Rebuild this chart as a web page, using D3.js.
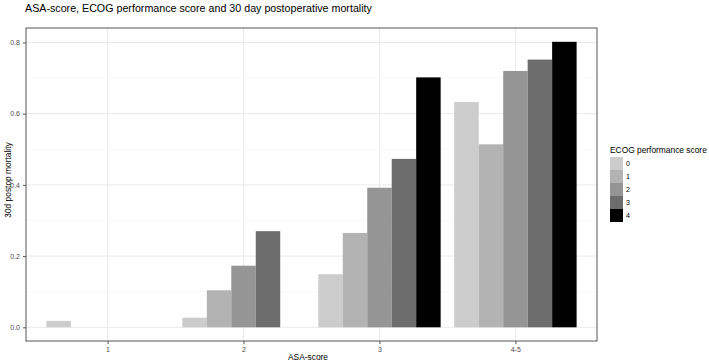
<!DOCTYPE html>
<html><head><meta charset="utf-8">
<script src="https://cdn.jsdelivr.net/npm/d3@7"></script>
<style>body{margin:0;background:#fff}svg{display:block;font-family:"Liberation Sans",Arial,sans-serif}</style>
</head><body><svg id="c" width="709" height="364"></svg>
<script>
const categories = ["1","2","3","4-5"];
const ecogLevels = ["0","1","2","3","4"];
const ecogColors = ["#CCCCCC","#B3B3B3","#959595","#6D6D6D","#000000"];
// values per ASA category, index = ECOG level (null = no bar)
const ecog0 = [0.018, 0.027, 0.149, 0.633];
const ecog1 = [null, 0.104, 0.265, 0.514];
const ecog2 = [null, 0.173, 0.392, 0.720];
const ecog3 = [null, 0.270, 0.473, 0.752];
const ecog4 = [null, null, 0.702, 0.802];
const yTicks = [0.0, 0.2, 0.4, 0.6, 0.8];
const yMinor = [0.1, 0.3, 0.5, 0.7];

const series = [ecog0, ecog1, ecog2, ecog3, ecog4];
const svg = d3.select("#c");
const P = {l:26, r:597, t:28, b:341};

const step = (P.r - P.l) / (categories.length - 1 + 1.2);
const x = d3.scalePoint().domain(categories).range([P.l + 0.6*step, P.r - 0.6*step]);
const y = d3.scaleLinear().domain([0, 0.8]).range([327.3, 42.5]);
const groupW = 0.9*step;
const xs = d3.scaleBand().domain(ecogLevels).range([-groupW/2, groupW/2]).padding(0);

svg.append("rect").attr("x",P.l).attr("y",P.t).attr("width",P.r-P.l).attr("height",P.b-P.t).attr("fill","#fff");
const g = svg.append("g");
g.selectAll(".ymin").data(yMinor).join("line").attr("x1",P.l).attr("x2",P.r)
  .attr("y1",d=>y(d)).attr("y2",d=>y(d)).attr("stroke","#F5F5F5").attr("stroke-width",0.6);
g.selectAll(".ymaj").data(yTicks).join("line").attr("x1",P.l).attr("x2",P.r)
  .attr("y1",d=>y(d)).attr("y2",d=>y(d)).attr("stroke","#EBEBEB").attr("stroke-width",1);
g.selectAll(".xmaj").data(categories).join("line").attr("y1",P.t).attr("y2",P.b)
  .attr("x1",d=>x(d)).attr("x2",d=>x(d)).attr("stroke","#EBEBEB").attr("stroke-width",1);

const bars = [];
series.forEach((s,i)=>s.forEach((v,j)=>{ if(v!==null) bars.push({cat:categories[j], lvl:ecogLevels[i], v, i}); }));
svg.append("g").selectAll("rect").data(bars).join("rect")
  .attr("x",d=>x(d.cat)+xs(d.lvl)).attr("width",xs.bandwidth())
  .attr("y",d=>y(d.v)).attr("height",d=>y(0)-y(d.v))
  .attr("fill",d=>ecogColors[d.i]);

svg.append("rect").attr("x",P.l).attr("y",P.t).attr("width",P.r-P.l).attr("height",P.b-P.t)
  .attr("fill","none").attr("stroke","#555").attr("stroke-width",1);

const ax = svg.append("g").attr("transform",`translate(0,${P.b})`)
  .call(d3.axisBottom(x).tickSize(3).tickPadding(3));
const ay = svg.append("g").attr("transform",`translate(${P.l},0)`)
  .call(d3.axisLeft(y).tickValues(yTicks).tickFormat(d3.format(".1f")).tickSize(3).tickPadding(3));
[ax,ay].forEach(a=>{
  a.select(".domain").remove();
  a.selectAll(".tick line").attr("stroke","#555");
  a.selectAll(".tick text").attr("fill","#4D4D4D").style("font-size","7px").style("font-family","Liberation Sans, Arial, sans-serif");
});

svg.append("text").attr("x",25).attr("y",12).text("ASA-score, ECOG performance score and 30 day postoperative mortality")
  .attr("fill","#000").style("font-size","10.7px");
svg.append("text").attr("x",308).attr("y",360).attr("text-anchor","middle").text("ASA-score")
  .style("font-size","8.4px").attr("fill","#000");
svg.append("text").attr("transform",`translate(11,180) rotate(-90)`).attr("text-anchor","middle")
  .text("30d postop mortality").style("font-size","8.4px").attr("fill","#000");

const lg = svg.append("g").attr("transform","translate(610,0)");
lg.append("text").attr("x",0).attr("y",153).text("ECOG performance score").style("font-size","8.4px").attr("fill","#000");
const keyH = 13;
lg.selectAll("rect").data(ecogLevels).join("rect").attr("x",0).attr("y",(d,i)=>157+i*keyH)
  .attr("width",13).attr("height",keyH).attr("fill",(d,i)=>ecogColors[i]);
lg.selectAll(".lt").data(ecogLevels).join("text").attr("x",16).attr("y",(d,i)=>157+i*keyH+keyH/2+2.5)
  .text(d=>d).style("font-size","7px").attr("fill","#000");
</script></body></html>
